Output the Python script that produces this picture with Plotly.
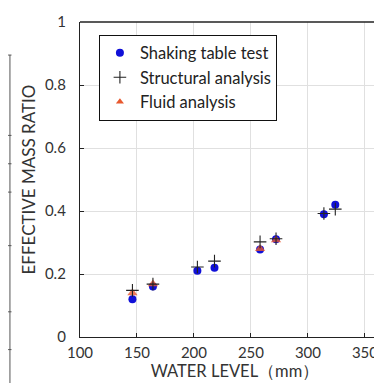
import plotly.graph_objects as go

# Data
shake_x = [146, 164, 203, 218, 258, 272, 314, 324]
shake_y = [0.12, 0.16, 0.21, 0.22, 0.278, 0.31, 0.39, 0.42]

struct_x = [146, 164, 203, 218, 258, 272, 314, 324]
struct_y = [0.148, 0.168, 0.222, 0.241, 0.302, 0.312, 0.392, 0.406]

fluid_x = [146, 164, 258, 272]
fluid_y = [0.14, 0.168, 0.28, 0.308]

x_ticks = [100, 150, 200, 250, 300, 350]
y_ticks = [0, 0.2, 0.4, 0.6, 0.8, 1]
y_tick_text = ["0", "0.2", "0.4", "0.6", "0.8", "1"]

FONT = "Lato, 'Open Sans', sans-serif"

fig = go.Figure()
fig.add_trace(go.Scatter(
    x=shake_x, y=shake_y, mode="markers", name="Shaking table test",
    marker=dict(symbol="circle", size=8, color="#1010d8"),
))
fig.add_trace(go.Scatter(
    x=fluid_x, y=fluid_y, mode="markers", name="Fluid analysis",
    marker=dict(symbol="triangle-up", size=9, color="#e8582e", opacity=0.8),
    showlegend=False,
))
fig.add_trace(go.Scatter(
    x=struct_x, y=struct_y, mode="markers", name="Structural analysis",
    marker=dict(symbol="cross-thin", size=9, color="#222222",
                line=dict(width=1.1, color="#222222")),
))
# legend-only entry for fluid analysis (kept order in legend)
fig.add_trace(go.Scatter(
    x=[None], y=[None], mode="markers", name="Fluid analysis",
    marker=dict(symbol="triangle-up", size=7, color="#e8582e"),
))

# artefact line at far left of the reference image
fig.add_shape(type="line", xref="paper", yref="paper",
              x0=-0.226, x1=-0.226, y0=-0.17, y1=0.895,
              line=dict(color="#555555", width=1))
for yy in [0.895, 0.64, 0.55, 0.46, 0.29, 0.08, -0.04]:
    fig.add_shape(type="line", xref="paper", yref="paper",
                  x0=-0.232, x1=-0.221, y0=yy, y1=yy,
                  line=dict(color="#555555", width=1))

fig.update_layout(
    width=382, height=383,
    margin=dict(l=72, r=0, t=14, b=54),
    paper_bgcolor="white", plot_bgcolor="white",
    font=dict(family=FONT, size=15, color="#333333"),
    showlegend=True,
    legend=dict(
        x=0.061, y=0.96, xanchor="left", yanchor="top",
        bgcolor="white", bordercolor="#111111", borderwidth=1,
        font=dict(family=FONT, size=16.5, color="#222222"),
        itemsizing="trace", tracegroupgap=0,
        itemwidth=30,
    ),
    xaxis=dict(
        range=[100, 372], tickvals=x_ticks, ticks="inside", ticklen=4,
        tickcolor="#222222", showline=True, linecolor="#222222", linewidth=1.3,
        showgrid=True, gridcolor="#e0e0e0", gridwidth=1, zeroline=False,
        tickfont=dict(size=15, color="#333333"), ticklabelstandoff=2,
        title=dict(text="WATER LEVEL（mm）", font=dict(size=16.5, color="#333333"), standoff=0),
        mirror=False,
    ),
    yaxis=dict(
        range=[0, 1], tickvals=y_ticks, ticktext=y_tick_text, ticks="inside", ticklen=4,
        tickcolor="#222222", showline=True, linecolor="#222222", linewidth=1.3,
        showgrid=True, gridcolor="#e0e0e0", gridwidth=1, zeroline=False,
        tickfont=dict(size=15, color="#333333"), ticklabelstandoff=10,
        title=dict(text="EFFECTIVE MASS RATIO", font=dict(size=17, color="#333333"), standoff=4),
    ),
)
# top border line
fig.add_shape(type="line", xref="paper", yref="paper", x0=0, x1=1, y0=1, y1=1,
              line=dict(color="#222222", width=1.3))

fig.write_html("out.html")
